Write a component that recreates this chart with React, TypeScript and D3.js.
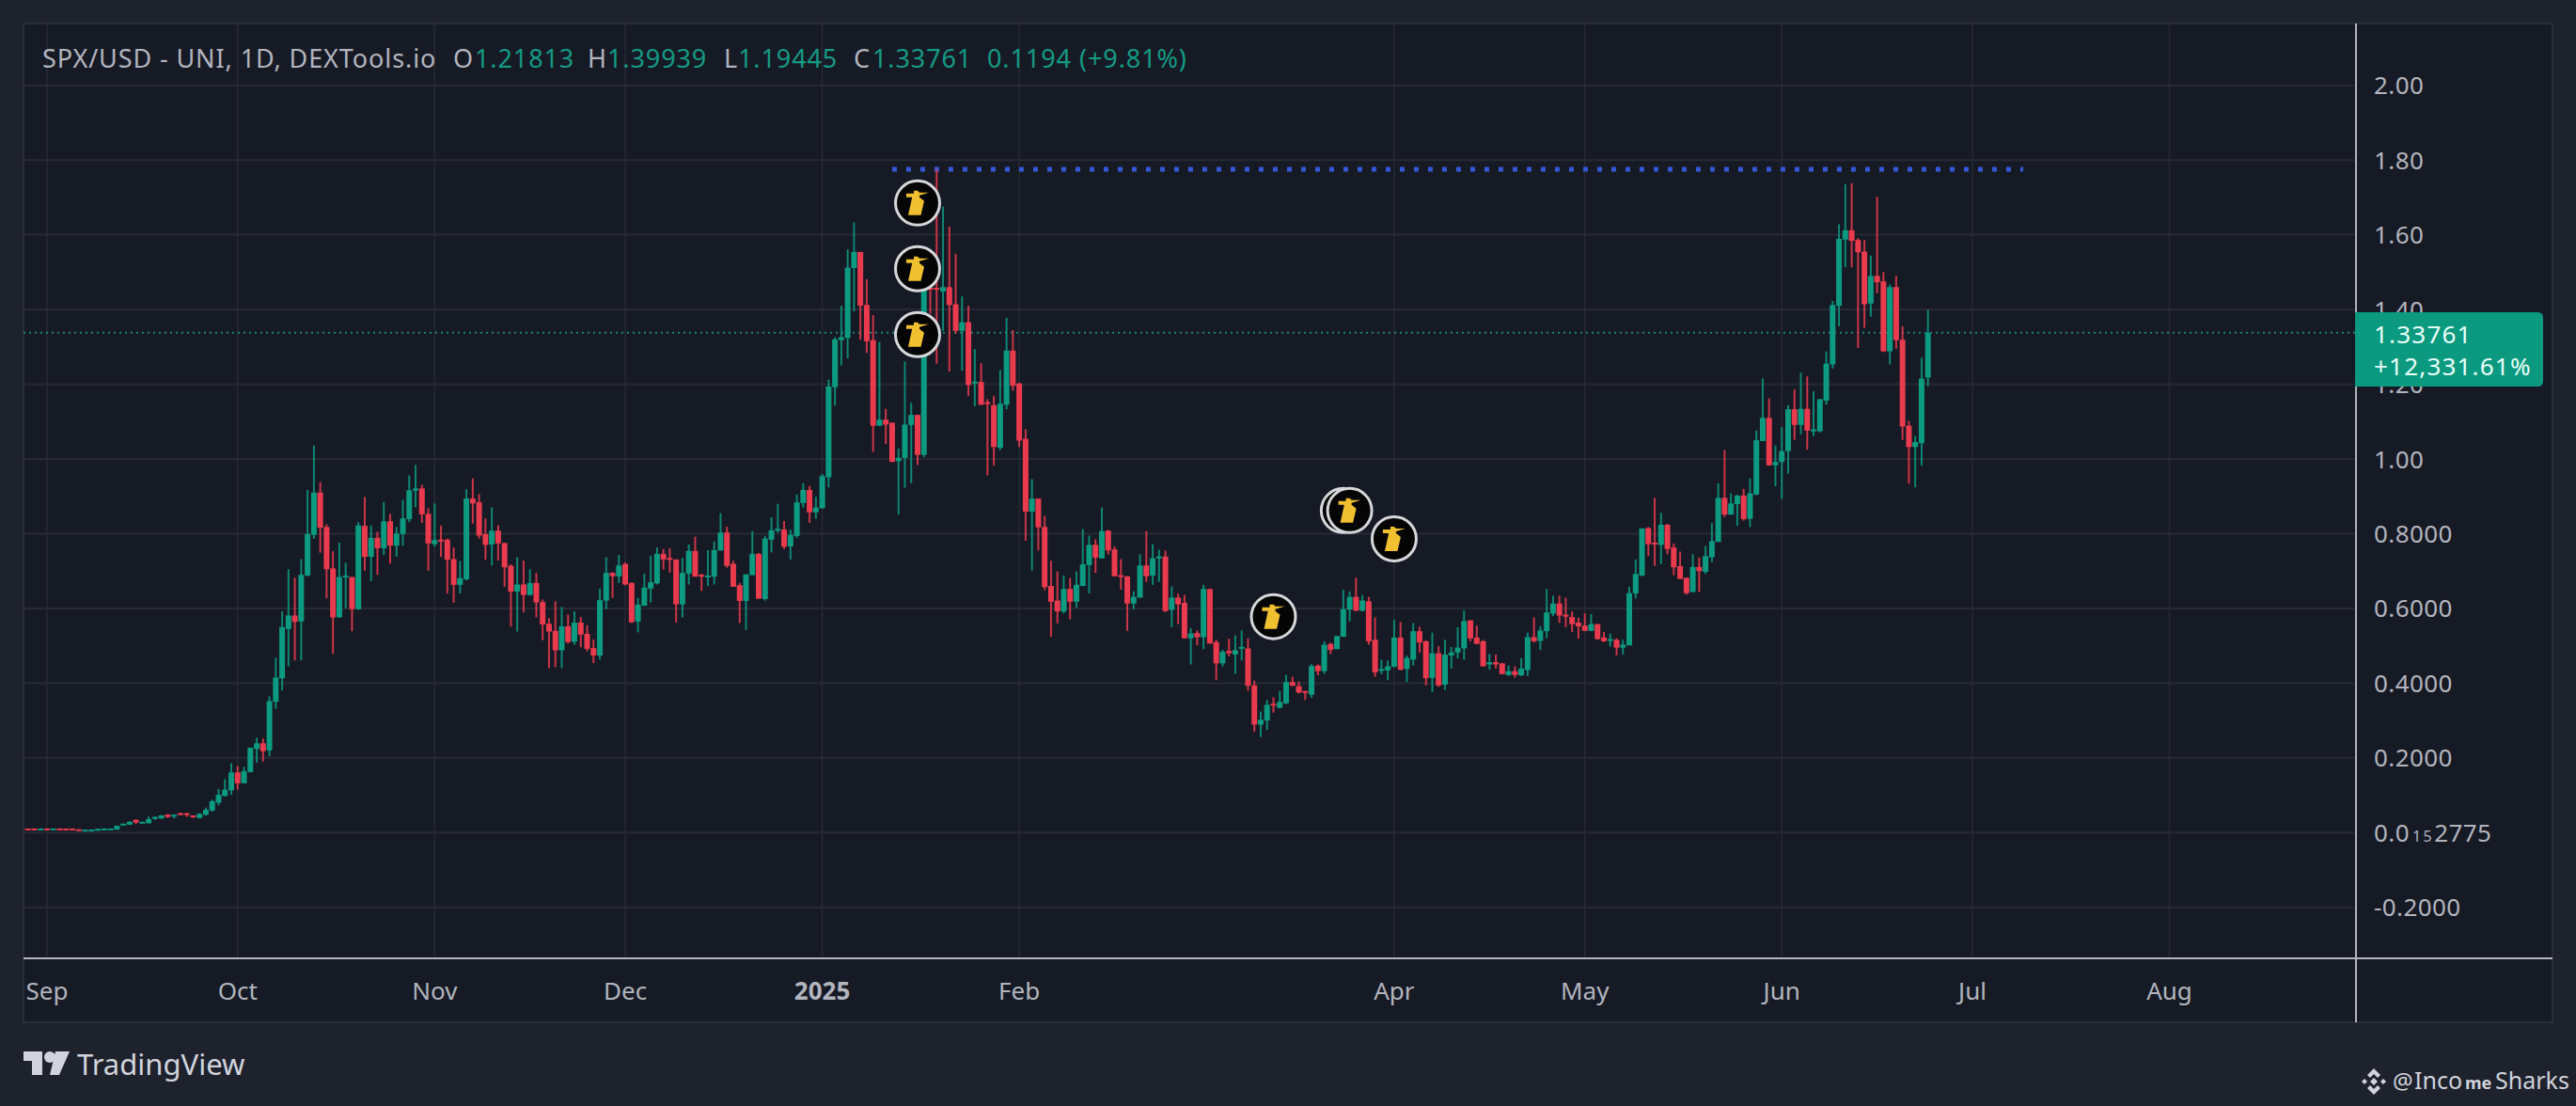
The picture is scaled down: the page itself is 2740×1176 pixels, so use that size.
import React, { useEffect, useRef } from 'react';
import * as d3 from 'd3';

// daily candles, first one is 29 Aug 2024
const firstDay = Date.UTC(2024, 7, 29);
const dayMs = 86400000;

const opens = [
  0.011, 0.011, 0.010,
  0.011, 0.010, 0.011, 0.011, 0.011, 0.009, 0.007, 0.007, 0.008, 0.010,
  0.010, 0.008, 0.021, 0.021, 0.034, 0.026, 0.025, 0.038, 0.038, 0.048,
  0.044, 0.052, 0.052, 0.046, 0.039, 0.048, 0.059, 0.080, 0.098, 0.113,
  0.161, 0.132, 0.162, 0.224, 0.239, 0.220, 0.350, 0.413, 0.545, 0.581,
  0.565, 0.688, 0.797, 0.910, 0.818, 0.707, 0.576, 0.684, 0.684, 0.598,
  0.821, 0.738, 0.789, 0.761, 0.833, 0.768, 0.799, 0.839, 0.915, 0.921,
  0.853, 0.772, 0.784, 0.784, 0.732, 0.663, 0.678, 0.894, 0.884, 0.799,
  0.771, 0.808, 0.775, 0.714, 0.645, 0.664, 0.636, 0.668, 0.617, 0.559,
  0.540, 0.488, 0.552, 0.511, 0.562, 0.532, 0.494, 0.474, 0.621, 0.695,
  0.686, 0.719, 0.668, 0.565, 0.607, 0.653, 0.667, 0.746, 0.735, 0.731,
  0.611, 0.693, 0.754, 0.690, 0.685, 0.685, 0.755, 0.803, 0.719, 0.662,
  0.620, 0.689, 0.746, 0.625, 0.784, 0.809, 0.811, 0.766, 0.794, 0.882,
  0.917, 0.857, 0.868, 0.951, 1.192, 1.318, 1.324, 1.511, 1.554, 1.412,
  1.318, 1.089, 1.105, 1.097, 0.994, 1.003, 1.091, 1.118, 1.011, 1.458,
  1.458, 1.448, 1.460, 1.414, 1.343, 1.366, 1.204, 1.206, 1.152, 1.144,
  1.030, 1.145, 1.290, 1.202, 1.054, 0.859, 0.894, 0.818, 0.660, 0.621,
  0.592, 0.652, 0.618, 0.660, 0.716, 0.770, 0.734, 0.808, 0.758, 0.689,
  0.686, 0.613, 0.629, 0.715, 0.688, 0.734, 0.739, 0.596, 0.629, 0.615,
  0.520, 0.534, 0.523, 0.652, 0.510, 0.453, 0.486, 0.477, 0.493, 0.493,
  0.394, 0.289, 0.300, 0.345, 0.334, 0.346, 0.403, 0.392, 0.379, 0.369,
  0.447, 0.432, 0.505, 0.491, 0.524, 0.597, 0.631, 0.594, 0.619, 0.516,
  0.434, 0.434, 0.444, 0.522, 0.438, 0.463, 0.539, 0.512, 0.414, 0.480,
  0.396, 0.474, 0.482, 0.493, 0.568, 0.522, 0.512, 0.450, 0.456, 0.453,
  0.422, 0.432, 0.421, 0.435, 0.523, 0.513, 0.539, 0.586, 0.613, 0.583,
  0.577, 0.562, 0.554, 0.540, 0.558, 0.522, 0.514, 0.516, 0.495, 0.501,
  0.640, 0.688, 0.815, 0.776, 0.770, 0.824, 0.763, 0.713, 0.682, 0.644,
  0.711, 0.698, 0.737, 0.778, 0.896, 0.851, 0.879, 0.902, 0.840, 0.905,
  1.048, 1.110, 0.983, 0.992, 1.021, 1.133, 1.091, 1.134, 1.076, 1.074,
  1.156, 1.253, 1.410, 1.587, 1.612, 1.586, 1.555, 1.416, 1.490, 1.475,
  1.288, 1.460, 1.319, 1.089, 1.032, 1.042, 1.21813,
];

const closes = [
  0.010, 0.010, 0.011,
  0.010, 0.011, 0.010, 0.010, 0.010, 0.008, 0.008, 0.008, 0.010, 0.011,
  0.011, 0.018, 0.024, 0.029, 0.027, 0.029, 0.036, 0.042, 0.046, 0.042,
  0.048, 0.048, 0.048, 0.043, 0.050, 0.061, 0.084, 0.101, 0.115, 0.161,
  0.132, 0.164, 0.227, 0.239, 0.218, 0.352, 0.415, 0.550, 0.581, 0.564,
  0.690, 0.799, 0.910, 0.816, 0.705, 0.576, 0.684, 0.688, 0.598, 0.822,
  0.738, 0.789, 0.761, 0.833, 0.768, 0.800, 0.841, 0.916, 0.921, 0.852,
  0.774, 0.783, 0.781, 0.730, 0.663, 0.681, 0.894, 0.881, 0.795, 0.770,
  0.808, 0.774, 0.710, 0.645, 0.664, 0.636, 0.668, 0.616, 0.557, 0.538,
  0.488, 0.552, 0.510, 0.562, 0.530, 0.492, 0.474, 0.622, 0.695, 0.686,
  0.715, 0.664, 0.563, 0.610, 0.656, 0.670, 0.746, 0.731, 0.733, 0.611,
  0.695, 0.754, 0.685, 0.685, 0.688, 0.756, 0.803, 0.714, 0.658, 0.620,
  0.691, 0.746, 0.626, 0.787, 0.809, 0.813, 0.765, 0.797, 0.884, 0.917,
  0.857, 0.870, 0.954, 1.194, 1.320, 1.326, 1.512, 1.554, 1.410, 1.315,
  1.089, 1.105, 1.092, 0.992, 1.003, 1.092, 1.118, 1.011, 1.455, 1.454,
  1.454, 1.460, 1.412, 1.343, 1.366, 1.198, 1.207, 1.145, 1.147, 1.032,
  1.148, 1.290, 1.196, 1.049, 0.859, 0.894, 0.817, 0.657, 0.618, 0.592,
  0.652, 0.618, 0.663, 0.718, 0.770, 0.736, 0.807, 0.755, 0.686, 0.686,
  0.613, 0.631, 0.715, 0.686, 0.734, 0.739, 0.593, 0.629, 0.611, 0.520,
  0.533, 0.523, 0.652, 0.506, 0.453, 0.484, 0.480, 0.488, 0.497, 0.393,
  0.289, 0.302, 0.342, 0.341, 0.350, 0.403, 0.393, 0.375, 0.377, 0.446,
  0.432, 0.503, 0.489, 0.526, 0.598, 0.631, 0.594, 0.621, 0.512, 0.429,
  0.438, 0.445, 0.522, 0.436, 0.467, 0.539, 0.509, 0.413, 0.480, 0.394,
  0.476, 0.482, 0.495, 0.566, 0.520, 0.505, 0.445, 0.456, 0.450, 0.424,
  0.432, 0.422, 0.439, 0.523, 0.512, 0.541, 0.589, 0.613, 0.581, 0.580,
  0.558, 0.552, 0.540, 0.558, 0.518, 0.512, 0.518, 0.495, 0.503, 0.641,
  0.692, 0.814, 0.772, 0.773, 0.824, 0.759, 0.710, 0.679, 0.641, 0.711,
  0.700, 0.740, 0.780, 0.896, 0.851, 0.881, 0.902, 0.839, 0.908, 1.050,
  1.110, 0.983, 0.992, 1.021, 1.133, 1.091, 1.134, 1.076, 1.079, 1.160,
  1.255, 1.412, 1.589, 1.612, 1.584, 1.553, 1.414, 1.490, 1.473, 1.288,
  1.460, 1.318, 1.087, 1.032, 1.045, 1.215, 1.33761,
];

const highs = [
  0.011, 0.011, 0.011,
  0.011, 0.011, 0.011, 0.011, 0.011, 0.009, 0.008, 0.008, 0.010, 0.011,
  0.011, 0.019, 0.024, 0.030, 0.036, 0.029, 0.043, 0.043, 0.047, 0.050,
  0.049, 0.053, 0.053, 0.046, 0.052, 0.067, 0.088, 0.117, 0.143, 0.186,
  0.178, 0.176, 0.228, 0.254, 0.252, 0.365, 0.468, 0.592, 0.705, 0.682,
  0.732, 0.917, 1.036, 0.938, 0.825, 0.753, 0.776, 0.722, 0.684, 0.831,
  0.898, 0.822, 0.805, 0.885, 0.853, 0.818, 0.891, 0.956, 0.984, 0.931,
  0.868, 0.881, 0.822, 0.787, 0.763, 0.727, 0.919, 0.948, 0.906, 0.841,
  0.871, 0.823, 0.775, 0.718, 0.737, 0.728, 0.705, 0.695, 0.624, 0.574,
  0.619, 0.604, 0.584, 0.592, 0.577, 0.555, 0.517, 0.653, 0.737, 0.697,
  0.743, 0.723, 0.670, 0.628, 0.693, 0.741, 0.763, 0.759, 0.761, 0.731,
  0.735, 0.771, 0.792, 0.693, 0.756, 0.779, 0.855, 0.819, 0.727, 0.668,
  0.691, 0.807, 0.748, 0.794, 0.844, 0.880, 0.834, 0.811, 0.905, 0.935,
  0.928, 0.899, 0.960, 1.212, 1.326, 1.410, 1.561, 1.633, 1.554, 1.481,
  1.385, 1.313, 1.134, 1.097, 1.028, 1.261, 1.150, 1.118, 1.480, 1.481,
  1.775, 1.675, 1.622, 1.549, 1.435, 1.410, 1.294, 1.256, 1.160, 1.169,
  1.238, 1.378, 1.345, 1.204, 1.080, 0.946, 0.894, 0.848, 0.728, 0.699,
  0.688, 0.681, 0.699, 0.813, 0.795, 0.785, 0.870, 0.810, 0.766, 0.732,
  0.686, 0.646, 0.745, 0.807, 0.772, 0.757, 0.755, 0.659, 0.640, 0.636,
  0.547, 0.541, 0.663, 0.652, 0.516, 0.489, 0.519, 0.528, 0.541, 0.520,
  0.407, 0.324, 0.355, 0.362, 0.379, 0.422, 0.417, 0.405, 0.379, 0.451,
  0.450, 0.512, 0.508, 0.526, 0.650, 0.646, 0.682, 0.636, 0.631, 0.576,
  0.463, 0.461, 0.569, 0.564, 0.474, 0.561, 0.551, 0.514, 0.535, 0.499,
  0.516, 0.497, 0.550, 0.594, 0.568, 0.554, 0.516, 0.478, 0.477, 0.453,
  0.447, 0.445, 0.467, 0.535, 0.576, 0.552, 0.652, 0.634, 0.634, 0.629,
  0.592, 0.575, 0.587, 0.585, 0.558, 0.537, 0.533, 0.520, 0.516, 0.658,
  0.731, 0.814, 0.818, 0.896, 0.856, 0.826, 0.774, 0.752, 0.682, 0.745,
  0.736, 0.767, 0.828, 0.935, 1.024, 0.908, 0.904, 0.920, 0.948, 1.076,
  1.216, 1.162, 1.036, 1.085, 1.144, 1.186, 1.231, 1.221, 1.181, 1.160,
  1.288, 1.423, 1.628, 1.735, 1.738, 1.591, 1.586, 1.544, 1.702, 1.500,
  1.467, 1.490, 1.355, 1.102, 1.061, 1.271, 1.39939,
];

const lows = [
  0.010, 0.010, 0.010,
  0.010, 0.010, 0.010, 0.010, 0.010, 0.008, 0.007, 0.007, 0.008, 0.010,
  0.010, 0.008, 0.020, 0.021, 0.023, 0.026, 0.025, 0.034, 0.037, 0.039,
  0.038, 0.047, 0.042, 0.039, 0.038, 0.045, 0.056, 0.073, 0.096, 0.101,
  0.115, 0.132, 0.161, 0.187, 0.190, 0.204, 0.331, 0.380, 0.445, 0.461,
  0.461, 0.686, 0.786, 0.749, 0.627, 0.478, 0.575, 0.600, 0.539, 0.596,
  0.701, 0.673, 0.690, 0.743, 0.720, 0.738, 0.768, 0.831, 0.871, 0.829,
  0.701, 0.765, 0.738, 0.640, 0.615, 0.640, 0.675, 0.827, 0.787, 0.730,
  0.715, 0.728, 0.658, 0.551, 0.538, 0.590, 0.634, 0.576, 0.515, 0.440,
  0.443, 0.440, 0.506, 0.503, 0.496, 0.485, 0.454, 0.463, 0.598, 0.628,
  0.668, 0.662, 0.561, 0.536, 0.607, 0.616, 0.664, 0.704, 0.696, 0.562,
  0.576, 0.664, 0.685, 0.647, 0.660, 0.664, 0.755, 0.709, 0.658, 0.561,
  0.542, 0.689, 0.626, 0.621, 0.750, 0.803, 0.759, 0.731, 0.789, 0.870,
  0.829, 0.840, 0.868, 0.924, 1.143, 1.250, 1.269, 1.395, 1.319, 1.284,
  1.019, 1.088, 1.040, 0.992, 0.851, 0.923, 0.935, 0.984, 1.005, 1.389,
  1.255, 1.343, 1.234, 1.336, 1.236, 1.169, 1.141, 1.145, 0.956, 0.982,
  1.024, 1.133, 1.183, 1.032, 0.781, 0.701, 0.755, 0.649, 0.524, 0.560,
  0.587, 0.571, 0.602, 0.660, 0.640, 0.695, 0.734, 0.744, 0.686, 0.650,
  0.540, 0.597, 0.629, 0.671, 0.663, 0.671, 0.590, 0.550, 0.558, 0.520,
  0.450, 0.501, 0.491, 0.506, 0.408, 0.445, 0.472, 0.425, 0.461, 0.379,
  0.270, 0.256, 0.275, 0.321, 0.333, 0.344, 0.392, 0.372, 0.355, 0.361,
  0.421, 0.425, 0.478, 0.491, 0.524, 0.565, 0.592, 0.592, 0.503, 0.417,
  0.424, 0.408, 0.442, 0.434, 0.403, 0.447, 0.482, 0.394, 0.376, 0.390,
  0.382, 0.439, 0.466, 0.463, 0.512, 0.505, 0.445, 0.436, 0.439, 0.424,
  0.419, 0.415, 0.419, 0.419, 0.509, 0.489, 0.520, 0.579, 0.561, 0.550,
  0.537, 0.519, 0.539, 0.539, 0.516, 0.510, 0.498, 0.474, 0.477, 0.501,
  0.627, 0.686, 0.740, 0.714, 0.719, 0.745, 0.689, 0.679, 0.637, 0.644,
  0.644, 0.692, 0.724, 0.778, 0.845, 0.851, 0.821, 0.835, 0.818, 0.903,
  1.048, 0.982, 0.927, 0.893, 0.961, 1.051, 1.066, 1.025, 1.061, 1.071,
  1.145, 1.242, 1.355, 1.513, 1.513, 1.297, 1.351, 1.381, 1.444, 1.286,
  1.253, 1.295, 1.051, 0.934, 0.924, 0.982, 1.19445,
];

const priceTicks = [2, 1.8, 1.6, 1.4, 1.2, 1, 0.8, 0.6, 0.4, 0.2, 0, -0.2];
const priceLabels = ['2.00', '1.80', '1.60', '1.40', '1.20', '1.00', '0.8000', '0.6000', '0.4000', '0.2000', '', '-0.2000'];

const timeTicks = [
  Date.UTC(2024, 8, 1), Date.UTC(2024, 9, 1), Date.UTC(2024, 10, 1), Date.UTC(2024, 11, 1),
  Date.UTC(2025, 0, 1), Date.UTC(2025, 1, 1), Date.UTC(2025, 3, 1), Date.UTC(2025, 4, 1),
  Date.UTC(2025, 5, 1), Date.UTC(2025, 6, 1), Date.UTC(2025, 7, 1),
];
const timeLabels = ['Sep', 'Oct', 'Nov', 'Dec', '2025', 'Feb', 'Apr', 'May', 'Jun', 'Jul', 'Aug'];

// idea markers on the chart, [date, price]
const markers: [number, number][] = [
  [Date.UTC(2025, 0, 16), 1.685],
  [Date.UTC(2025, 0, 16), 1.509],
  [Date.UTC(2025, 0, 16), 1.333],
  [Date.UTC(2025, 2, 24), 0.862],
  [Date.UTC(2025, 2, 25), 0.862],
  [Date.UTC(2025, 3, 1), 0.786],
  [Date.UTC(2025, 2, 13), 0.578],
];

const resistanceLevel = 1.775;
const resistanceFrom = Date.UTC(2025, 0, 12);
const resistanceTo = Date.UTC(2025, 6, 9);
const lastPrice = 1.33761;

const legendParts: [string, number, string][] = [
  ['SPX/USD - UNI, 1D, DEXTools.io', 45, 'label'],
  ['O', 482, 'label'], ['1.21813', 505, 'value'],
  ['H', 625, 'label'], ['1.39939', 646, 'value'],
  ['L', 770, 'label'], ['1.19445', 785, 'value'],
  ['C', 908, 'label'], ['1.33761', 928, 'value'],
  ['0.1194', 1050, 'value'], ['(+9.81%)', 1148, 'value'],
];

const UP = '#0c9a80';
const DOWN = '#ea3a4e';
const FONT = '"Noto Sans", sans-serif';
const BOTTLE = 'M-10,13 L3.5,13 L7,-2 L2,-6 L2,-8 L12,-11 L2,-11 L0,-13 L-4,-13 L-4,-10 L-12,-10 L-12,-6 L-6,-6 L-6,-5 Z';

const App: React.FC = () => {
  const svgRef = useRef<SVGSVGElement>(null);

  useEffect(() => {
    if (!svgRef.current) return;
    const svg = d3.select(svgRef.current);
    svg.selectAll('*').remove();

    const left = 25;
    const top = 25;
    const axisX = 2506;
    const axisY = 1019;
    const right = 2715;
    const bottom = 1087;

    const x = d3.scaleUtc().domain([timeTicks[0], timeTicks[9]]).range([50, 2098]);
    const y = d3.scaleLinear().domain([0, 2]).range([885.3, 90.7]);

    svg.append('rect').attr('width', 2740).attr('height', 1176).attr('fill', '#1e222d');
    svg.append('rect').attr('x', left).attr('y', top).attr('width', right - left).attr('height', bottom - top)
      .attr('fill', '#161a25').attr('stroke', '#2a2e39').attr('stroke-width', 2);

    // Grid
    svg.append('g').selectAll('line').data(priceTicks).enter().append('line')
      .attr('x1', left).attr('x2', axisX - 2)
      .attr('y1', (d: number) => y(d)).attr('y2', (d: number) => y(d))
      .attr('stroke', '#272a35').attr('stroke-width', 2);
    svg.append('g').selectAll('line').data(timeTicks).enter().append('line')
      .attr('x1', (d: number) => x(d)).attr('x2', (d: number) => x(d))
      .attr('y1', top).attr('y2', axisY)
      .attr('stroke', '#272a35').attr('stroke-width', 1.5);

    // Last price line
    svg.append('line').attr('x1', left).attr('x2', axisX)
      .attr('y1', y(lastPrice)).attr('y2', y(lastPrice))
      .attr('stroke', '#1f8474').attr('stroke-width', 2).attr('stroke-dasharray', '2 4');

    // Resistance line
    svg.append('line').attr('x1', x(resistanceFrom)).attr('x2', x(resistanceTo))
      .attr('y1', y(resistanceLevel)).attr('y2', y(resistanceLevel))
      .attr('stroke', '#3558d6').attr('stroke-width', 5).attr('stroke-dasharray', '5 10');

    // Candles
    const candles = opens.map((o, i) => ({
      date: firstDay + i * dayMs, open: o, close: closes[i], high: highs[i], low: lows[i],
    }));
    const colour = (d: any) => (d.close >= d.open ? UP : DOWN);
    const candleG = svg.append('g').selectAll('g').data(candles).enter().append('g');
    candleG.append('line')
      .attr('x1', (d: any) => x(d.date)).attr('x2', (d: any) => x(d.date))
      .attr('y1', (d: any) => y(d.high)).attr('y2', (d: any) => y(d.low))
      .attr('stroke', colour).attr('stroke-width', 2).attr('opacity', 0.85);
    candleG.append('rect')
      .attr('x', (d: any) => x(d.date) - 3)
      .attr('width', 6)
      .attr('y', (d: any) => y(Math.max(d.open, d.close)))
      .attr('height', (d: any) => Math.max(2, Math.abs(y(d.open) - y(d.close))))
      .attr('fill', colour);

    // Markers
    const markerG = svg.append('g').selectAll('g').data(markers).enter().append('g')
      .attr('transform', (d: [number, number]) => `translate(${x(d[0])},${y(d[1])})`);
    markerG.append('circle').attr('r', 23.5).attr('fill', '#050505')
      .attr('stroke', '#d6d7db').attr('stroke-width', 3);
    markerG.append('path').attr('d', BOTTLE).attr('fill', '#f0c030');

    // Axes lines
    svg.append('line').attr('x1', axisX).attr('x2', axisX).attr('y1', top).attr('y2', bottom)
      .attr('stroke', '#b2b5be').attr('stroke-width', 2);
    svg.append('line').attr('x1', left).attr('x2', right).attr('y1', axisY).attr('y2', axisY)
      .attr('stroke', '#b2b5be').attr('stroke-width', 2);

    // Price labels
    svg.append('g').selectAll('text').data(priceTicks).enter().append('text')
      .attr('x', 2525).attr('y', (d: number) => y(d) + 9.5)
      .attr('fill', '#b2b5be').attr('font-family', FONT).attr('font-size', 26)
      .attr('letter-spacing', 0.4)
      .text((_: number, i: number) => priceLabels[i]);
    const zero = svg.append('text').attr('x', 2525).attr('y', y(0) + 9.5)
      .attr('fill', '#b2b5be').attr('font-family', FONT).attr('font-size', 26).attr('letter-spacing', 0.4);
    zero.append('tspan').text('0.0');
    zero.append('tspan').attr('dx', 3).attr('font-size', 16).attr('letter-spacing', 2.5).text('15');
    zero.append('tspan').text('2775');

    // Price label box
    const bx = axisX - 1;
    const by = 332;
    const bw = 200;
    const bh = 79;
    svg.append('path')
      .attr('d', `M${bx},${by} H${bx + bw - 6} Q${bx + bw},${by} ${bx + bw},${by + 6} V${by + bh - 6} Q${bx + bw},${by + bh} ${bx + bw - 6},${by + bh} H${bx} Z`)
      .attr('fill', '#0b9a7f');
    svg.append('text').attr('x', 2525).attr('y', 365).attr('fill', '#e8fffa')
      .attr('font-family', FONT).attr('font-size', 26).attr('letter-spacing', 1.2).text(d3.format('.5f')(lastPrice));
    svg.append('text').attr('x', 2525).attr('y', 399).attr('fill', '#e8fffa')
      .attr('font-family', FONT).attr('font-size', 26).attr('letter-spacing', 1.2).text('+12,331.61%');

    // Time labels
    svg.append('g').selectAll('text').data(timeTicks).enter().append('text')
      .attr('x', (d: number) => x(d)).attr('y', 1063)
      .attr('text-anchor', 'middle').attr('fill', '#b2b5be')
      .attr('font-family', FONT).attr('font-size', 26)
      .attr('font-weight', (_: number, i: number) => (timeLabels[i] === '2025' ? 700 : 400))
      .text((_: number, i: number) => timeLabels[i]);

    // Legend
    svg.append('g').selectAll('text').data(legendParts).enter().append('text')
      .attr('x', (d: [string, number, string]) => d[1]).attr('y', 72)
      .attr('fill', (d: [string, number, string]) => (d[2] === 'value' ? '#159a83' : '#b2b5be'))
      .attr('font-family', FONT).attr('font-size', 27).attr('letter-spacing', 0.9)
      .text((d: [string, number, string]) => d[0]);

    // TradingView logo
    const logo = svg.append('g').attr('fill', '#d1d4dc');
    logo.append('path').attr('d', 'M25,1118 H45 V1143 H34 V1128 H25 Z');
    logo.append('circle').attr('cx', 53).attr('cy', 1124).attr('r', 6);
    logo.append('path').attr('d', 'M59,1118 H74 L63,1143 H53 Z');
    svg.append('text').attr('x', 82).attr('y', 1143).attr('fill', '#d1d4dc')
      .attr('font-family', FONT).attr('font-size', 31).text('TradingView');

    // Watermark
    const mark = svg.append('g').attr('fill', '#d1d4dc').attr('transform', 'translate(2525,1150)');
    mark.append('path').attr('d', 'M0,-14 L7,-7 L4,-4 L0,-8 L-4,-4 L-7,-7 Z');
    mark.append('path').attr('d', 'M0,14 L7,7 L4,4 L0,8 L-4,4 L-7,7 Z');
    mark.append('path').attr('d', 'M0,-4 L4,0 L0,4 L-4,0 Z');
    mark.append('path').attr('d', 'M-10,-3 L-7,0 L-10,3 L-13,0 Z');
    mark.append('path').attr('d', 'M10,-3 L13,0 L10,3 L7,0 Z');
    const watermark = (label: string, px: number, size: number, weight: number) =>
      svg.append('text').attr('x', px).attr('y', 1158).attr('fill', '#d1d4dc')
        .attr('font-family', FONT).attr('font-size', size).attr('font-weight', weight).text(label);
    watermark('@', 2545, 24, 400);
    watermark('Inco', 2568, 25, 400);
    watermark('me', 2622, 18, 700);
    watermark('Sharks', 2654, 25, 400);
  }, []);

  return (
    <svg
      ref={svgRef}
      width={2740}
      height={1176}
      viewBox="0 0 2740 1176"
      style={{ position: 'absolute', left: 0, top: 0, display: 'block' }}
    />
  );
};

export default App;
